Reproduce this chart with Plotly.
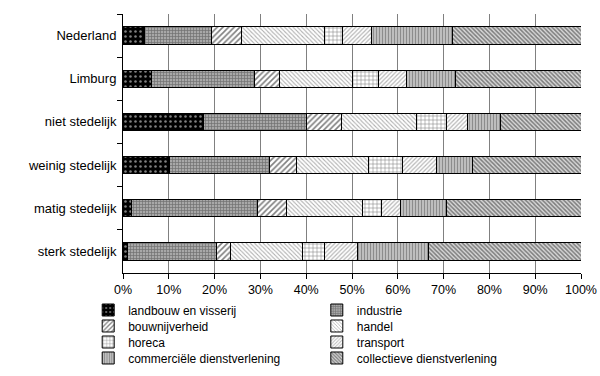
import plotly.graph_objects as go

categories = ["Nederland", "Limburg", "niet stedelijk", "weinig stedelijk", "matig stedelijk", "sterk stedelijk"]
series_names = ["landbouw en visserij", "industrie", "bouwnijverheid", "handel", "horeca",
                "transport", "commerciële dienstverlening", "collectieve dienstverlening"]

landbouw = [4.7, 6.3, 17.6, 10.2, 1.8, 1.0]
industrie = [14.6, 22.4, 22.4, 21.8, 27.5, 19.5]
bouw = [6.5, 5.4, 7.6, 5.8, 6.5, 2.9]
handel = [18.1, 16.1, 16.4, 15.7, 16.6, 15.9]
horeca = [4.0, 5.6, 6.6, 7.6, 4.0, 4.8]
transport = [6.4, 6.0, 4.7, 7.3, 4.1, 7.2]
commercieel = [17.6, 10.9, 7.1, 8.0, 10.2, 15.5]
collectief = [28.1, 27.3, 17.6, 23.6, 29.3, 33.2]

tick_vals = [0, 10, 20, 30, 40, 50, 60, 70, 80, 90, 100]
tick_text = ["0%", "10%", "20%", "30%", "40%", "50%", "60%", "70%", "80%", "90%", "100%"]

values = [landbouw, industrie, bouw, handel, horeca, transport, commercieel, collectief]
styles = [
    dict(shape=".", bgcolor="black", fgcolor="white", size=5, solidity=0.2),
    dict(shape="+", bgcolor="#a8a8a8", fgcolor="#383838", size=3, solidity=0.4),
    dict(shape="/", bgcolor="white", fgcolor="black", size=4, solidity=0.4),
    dict(shape="\\", bgcolor="white", fgcolor="#606060", size=3, solidity=0.35),
    dict(shape="+", bgcolor="white", fgcolor="black", size=4, solidity=0.25),
    dict(shape="/", bgcolor="white", fgcolor="#707070", size=3, solidity=0.4),
    dict(shape="|", bgcolor="#c8c8c8", fgcolor="#505050", size=3, solidity=0.45),
    dict(shape="\\", bgcolor="#d8d8d8", fgcolor="#202020", size=3, solidity=0.5),
]

# legend placement (container fractions): two columns, four rows
legend_cols = [0.147, 0.528]
legend_rows = [0.1755, 0.133, 0.0904, 0.0479]

fig = go.Figure()
legend_layout = {}
for i, (name, vals, st) in enumerate(zip(series_names, values, styles)):
    key = "legend" if i == 0 else f"legend{i + 1}"
    fig.add_trace(go.Bar(
        y=categories, x=vals, name=name, orientation="h", legend=key,
        marker=dict(color=st["bgcolor"], line=dict(color="black", width=1),
                    pattern=dict(shape=st["shape"], bgcolor=st["bgcolor"], fgcolor=st["fgcolor"],
                                 size=st["size"], solidity=st["solidity"], fillmode="overlay")),
    ))
    legend_layout[key] = dict(
        x=legend_cols[i % 2], y=legend_rows[i // 2], xref="container", yref="container",
        xanchor="left", yanchor="middle", font=dict(size=12), bgcolor="rgba(0,0,0,0)",
        itemwidth=30,
    )

fig.update_layout(
    barmode="stack", bargap=0.6,
    width=600, height=376,
    margin=dict(l=123, r=19, t=14, b=103, autoexpand=False),
    paper_bgcolor="white", plot_bgcolor="white",
    font=dict(family="Liberation Sans, Arial, sans-serif", size=12, color="black"),
    showlegend=True,
    xaxis=dict(range=[0, 100], tickvals=tick_vals, ticktext=tick_text, showgrid=True,
               gridcolor="#808080", gridwidth=1, showline=True, linecolor="black",
               ticks="outside", ticklen=5, tickcolor="black", zeroline=False,
               tickfont=dict(size=12.5), automargin=False),
    yaxis=dict(categoryorder="array", categoryarray=categories, autorange="reversed",
               showline=True, linecolor="black", ticks="outside", ticklen=5, tickcolor="black",
               tickson="boundaries", showgrid=False, automargin=False,
               tickfont=dict(size=13), ticklabelstandoff=3),
    **legend_layout,
)

fig.write_html("out.html", config={"displayModeBar": False},
               post_script="document.body.style.margin='0px';")
